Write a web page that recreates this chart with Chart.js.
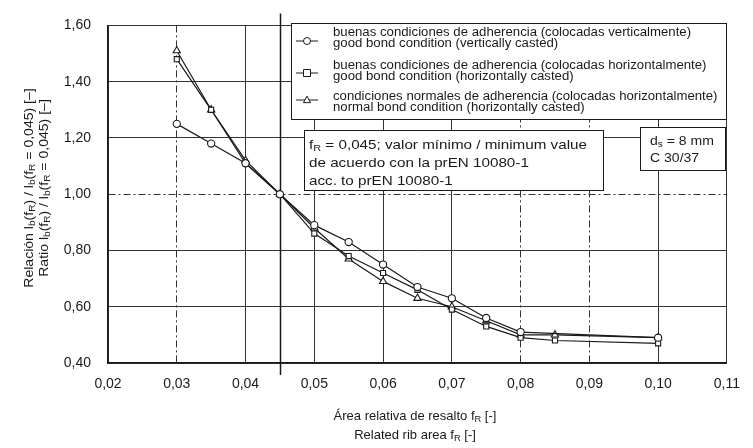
<!DOCTYPE html>
<html>
<head>
<meta charset="utf-8">
<script src="https://cdn.jsdelivr.net/npm/chart.js@4.4.1/dist/chart.umd.min.js"></script>
<style>
  html, body { margin: 0; padding: 0; background: #fff; }
  canvas { display: block; }
</style>
</head>
<body>
<canvas id="chart" width="753" height="448"></canvas>
<script>
// area relativa de resalto fR
const fR = [0.03, 0.035, 0.04, 0.045, 0.05, 0.055, 0.06, 0.065, 0.07, 0.075, 0.08, 0.085, 0.10];
// buenas condiciones, colocadas verticalmente (circulo)
const goodVertical = [1.25, 1.18, 1.11, 1.00, 0.89, 0.83, 0.75, 0.67, 0.63, 0.56, 0.51, null, 0.49];
// buenas condiciones, colocadas horizontalmente (cuadrado)
const goodHorizontal = [1.48, 1.30, 1.11, 1.00, 0.86, 0.78, 0.72, 0.66, 0.59, 0.53, 0.49, 0.48, 0.47];
// condiciones normales, colocadas horizontalmente (triangulo)
const normalHorizontal = [1.51, 1.30, 1.12, 1.00, 0.88, 0.77, 0.69, 0.63, 0.60, 0.55, 0.50, 0.50, 0.49];

const fRmin = 0.045;
const xTicks = [0.02, 0.03, 0.04, 0.05, 0.06, 0.07, 0.08, 0.09, 0.10, 0.11];
const yTicks = [0.40, 0.60, 0.80, 1.00, 1.20, 1.40, 1.60];

const legendLabels = [
    ['buenas condiciones de adherencia (colocadas verticalmente)', 'good bond condition (vertically casted)'],
    ['buenas condiciones de adherencia (colocadas horizontalmente)', 'good bond condition (horizontally casted)'],
    ['condiciones normales de adherencia (colocadas horizontalmente)', 'normal bond condition (horizontally casted)'],
];
const pointStyles = ['circle', 'rect', 'triangle'];

const FONT = '"Liberation Sans", Arial, Helvetica, sans-serif';
const INK = '#1a1a1a';
const DASH_DOT = [7, 3, 2, 3];

function fmt(v) {
    return v.toFixed(2).replace('.', ',');
}

function toPoints(ys) {
    return fR.map((x, i) => ({ x: x, y: ys[i] }));
}

// texto con subindices: parts = [[texto, esSub], ...]
function richWidth(ctx, parts, size) {
    let w = 0;
    parts.forEach(([t, sub]) => {
        ctx.font = (sub ? size * 0.72 : size) + 'px ' + FONT;
        w += ctx.measureText(t).width;
    });
    return w;
}

function drawRich(ctx, parts, x, y, size, align) {
    let w = richWidth(ctx, parts, size);
    let cx = align === 'center' ? x - w / 2 : x;
    ctx.fillStyle = INK;
    parts.forEach(([t, sub]) => {
        ctx.font = (sub ? size * 0.72 : size) + 'px ' + FONT;
        ctx.fillText(t, cx, sub ? y + size * 0.28 : y);
        cx += ctx.measureText(t).width;
    });
}

function drawMarker(ctx, style, x, y, r) {
    ctx.beginPath();
    if (style === 'circle') {
        ctx.arc(x, y, r, 0, Math.PI * 2);
    } else if (style === 'rect') {
        ctx.rect(x - r, y - r, r * 2, r * 2);
    } else {
        ctx.moveTo(x, y - r * 1.1);
        ctx.lineTo(x + r, y + r * 0.75);
        ctx.lineTo(x - r, y + r * 0.75);
        ctx.closePath();
    }
    ctx.fillStyle = '#fff';
    ctx.fill();
    ctx.stroke();
}

function box(ctx, x1, y1, x2, y2) {
    ctx.fillStyle = '#fff';
    ctx.fillRect(x1, y1, x2 - x1, y2 - y1);
    ctx.strokeStyle = INK;
    ctx.lineWidth = 1;
    ctx.strokeRect(x1 + 0.5, y1 + 0.5, x2 - x1, y2 - y1);
}

// linea vertical fR = 0,045 (sale por arriba y por abajo del grafico)
const minLinePlugin = {
    id: 'minLine',
    beforeDatasetsDraw(chart) {
        const ctx = chart.ctx;
        const x = Math.round(chart.scales.x.getPixelForValue(fRmin)) + 0.5;
        ctx.save();
        ctx.strokeStyle = INK;
        ctx.lineWidth = 1.5;
        ctx.beginPath();
        ctx.moveTo(x, chart.chartArea.top - 12);
        ctx.lineTo(x, chart.chartArea.bottom + 12);
        ctx.stroke();
        ctx.restore();
    },
};

// leyenda, cuadros de texto y titulos de los ejes
const annotationsPlugin = {
    id: 'annotations',
    afterDatasetsDraw(chart) {
        const ctx = chart.ctx;
        ctx.save();
        ctx.textBaseline = 'middle';
        ctx.textAlign = 'left';

        // leyenda
        box(ctx, 291, 23, 726, 119);
        const rows = [[33, 44], [66, 77], [97, 108]];
        const markY = [41, 73, 100];
        legendLabels.forEach((lines, i) => {
            ctx.strokeStyle = INK;
            ctx.lineWidth = 1;
            ctx.beginPath();
            ctx.moveTo(296, markY[i]);
            ctx.lineTo(318, markY[i]);
            ctx.stroke();
            drawMarker(ctx, pointStyles[i], 307, markY[i], 3.5);
            lines.forEach((t, j) => {
                ctx.save();
                ctx.translate(333, rows[i][j]);
                ctx.scale(1.1, 1);
                ctx.fillStyle = INK;
                ctx.font = '12px ' + FONT;
                ctx.fillText(t, 0, 0);
                ctx.restore();
            });
        });

        // cuadro fR = 0,045
        box(ctx, 304, 130, 603, 190);
        const noteRows = [
            [['f', 0], ['R', 1], [' = 0,045; valor mínimo / minimum value', 0]],
            [['de acuerdo con la prEN 10080-1', 0]],
            [['acc. to prEN 10080-1', 0]],
        ];
        noteRows.forEach((parts, i) => {
            ctx.save();
            ctx.translate(309, 145 + i * 18);
            ctx.scale(1.17, 1);
            drawRich(ctx, parts, 0, 0, 13, 'left');
            ctx.restore();
        });

        // cuadro ds / hormigon
        box(ctx, 640, 127, 725, 170);
        ctx.save();
        ctx.translate(650, 141);
        ctx.scale(1.08, 1);
        drawRich(ctx, [['d', 0], ['s', 1], [' = 8 mm', 0]], 0, 0, 13, 'left');
        drawRich(ctx, [['C 30/37', 0]], 0, 17, 13, 'left');
        ctx.restore();

        // titulo eje y (dos lineas, girado)
        const yTitle = [
            [['Relación l', 0], ['b', 1], ['(f', 0], ['R', 1], [') / l', 0], ['b', 1], ['(f', 0], ['R', 1], [' = 0,045) [–]', 0]],
            [['Ratio l', 0], ['b', 1], ['(f', 0], ['R', 1], [') / l', 0], ['b', 1], ['(f', 0], ['R', 1], [' = 0,045) [–]', 0]],
        ];
        [29, 44].forEach((x, i) => {
            ctx.save();
            ctx.translate(x, 188);
            ctx.rotate(-Math.PI / 2);
            ctx.scale(1.08, 1);
            drawRich(ctx, yTitle[i], 0, 0, 13, 'center');
            ctx.restore();
        });

        // titulo eje x
        const xTitle = [
            [['Área relativa de resalto f', 0], ['R', 1], [' [-]', 0]],
            [['Related rib area f', 0], ['R', 1], [' [-]', 0]],
        ];
        [416, 435].forEach((y, i) => {
            drawRich(ctx, xTitle[i], 415, y, 13, 'center');
        });
        ctx.restore();
    },
};

function gridDash(values) {
    return (c) => (c.tick && values.some((v) => Math.abs(v - c.tick.value) < 1e-6) ? DASH_DOT : []);
}

const datasetBase = {
    borderColor: INK,
    borderWidth: 1.2,
    pointRadius: 3.6,
    pointBorderWidth: 1.1,
    pointBackgroundColor: '#fff',
    pointBorderColor: INK,
    tension: 0,
    spanGaps: true,
    fill: false,
};

new Chart(document.getElementById('chart'), {
    type: 'line',
    data: {
        datasets: [
            { ...datasetBase, label: legendLabels[0][1], data: toPoints(goodVertical), pointStyle: pointStyles[0] },
            { ...datasetBase, label: legendLabels[1][1], data: toPoints(goodHorizontal), pointStyle: pointStyles[1] },
            { ...datasetBase, label: legendLabels[2][1], data: toPoints(normalHorizontal), pointStyle: pointStyles[2], pointRadius: 4.2 },
        ],
    },
    options: {
        responsive: false,
        animation: false,
        devicePixelRatio: 1,
        layout: { padding: { top: 18, right: 18, bottom: 0, left: 0 } },
        plugins: {
            legend: { display: false },
            tooltip: { enabled: false },
        },
        scales: {
            x: {
                type: 'linear',
                min: xTicks[0],
                max: xTicks[xTicks.length - 1],
                afterBuildTicks: (scale) => { scale.ticks = xTicks.map((v) => ({ value: v })); },
                afterFit: (scale) => { scale.height = 85; },
                ticks: {
                    callback: (v) => fmt(v),
                    color: INK,
                    font: { family: FONT, size: 14 },
                    padding: 13,
                    maxRotation: 0,
                },
                grid: { color: '#333', lineWidth: 1, drawTicks: false },
                border: { color: INK, width: 1.5, dash: gridDash([0.03, 0.08, 0.09]) },
            },
            y: {
                min: yTicks[0],
                max: yTicks[yTicks.length - 1],
                afterBuildTicks: (scale) => { scale.ticks = yTicks.map((v) => ({ value: v })); },
                afterFit: (scale) => { scale.width = 108; },
                ticks: {
                    callback: (v) => fmt(v),
                    color: INK,
                    font: { family: FONT, size: 14 },
                    padding: 17,
                },
                grid: { color: '#333', lineWidth: 1, drawTicks: false },
                border: { color: INK, width: 1.5, dash: gridDash([1.0]) },
            },
        },
    },
    plugins: [minLinePlugin, annotationsPlugin],
});
</script>
</body>
</html>
